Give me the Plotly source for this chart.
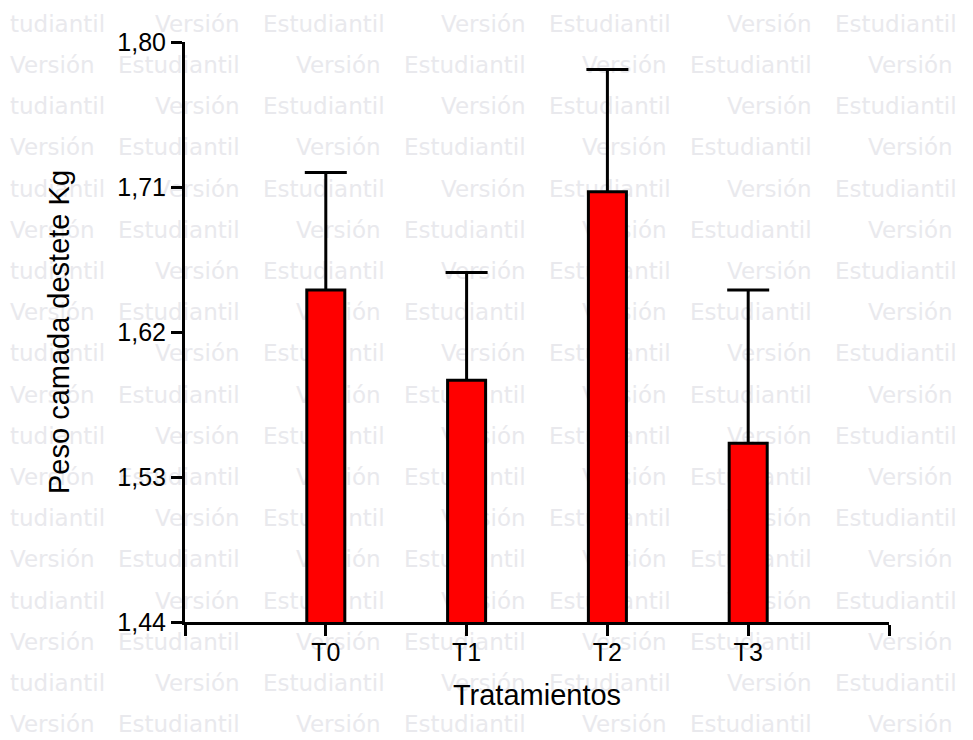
import plotly.graph_objects as go

# ---- data ----
categories = ["T0", "T1", "T2", "T3"]
means = [1.646, 1.590, 1.707, 1.551]
errors = [0.073, 0.067, 0.076, 0.095]
y_ticks = [1.44, 1.53, 1.62, 1.71, 1.80]
y_title = "Peso camada destete Kg"
x_title = "Tratamientos"
watermark_words = ["Versión", "Estudiantil"]

W, H = 973, 740
positions = list(range(1, len(categories) + 1))

# ---- watermark layout (decoration, page pixels) ----
wm_x, wm_y, wm_t = [], [], []
row_step = 41.2
period = 286
for i in range(18):
    yc = 26 + row_step * i
    if i % 2 == 0:
        # row starts with a word cut by the left page edge
        wm_x.append(10)
        wm_y.append(yc)
        wm_t.append(watermark_words[1][2:])
        start = 155
    else:
        start = 10
    for k in range(4):
        x0 = start + period * k
        if x0 > W:
            continue
        wm_x.append(x0)
        wm_y.append(yc)
        wm_t.append(watermark_words[0])
        if x0 + 108 < W:
            wm_x.append(x0 + 108)
            wm_y.append(yc)
            wm_t.append(watermark_words[1])

fig = go.Figure()

fig.add_trace(go.Scatter(
    x=wm_x, y=wm_y, text=wm_t, mode="text", textposition="middle right",
    textfont=dict(family="DejaVu Sans", size=23, color="#E9E9ED"),
    xaxis="x", yaxis="y", hoverinfo="skip", showlegend=False, cliponaxis=False,
))

# error bars (drawn beneath the bars; lower part hidden by bars / clipped)
fig.add_trace(go.Bar(
    x=positions, y=means, width=0.27,
    marker=dict(color="rgba(0,0,0,0)", line=dict(width=0)),
    error_y=dict(type="data", symmetric=False, array=errors, arrayminus=means,
                 color="black", thickness=3, width=21),
    xaxis="x2", yaxis="y2", hoverinfo="skip", showlegend=False,
))
fig.add_trace(go.Bar(
    x=positions, y=means, width=0.27,
    marker=dict(color="#FF0000", line=dict(color="black", width=3)),
    xaxis="x2", yaxis="y2", showlegend=False,
))

x0p, x1p = 185 / W, 889 / W
y0p, y1p = (H - 622) / H, (H - 42) / H

fig.update_layout(
    width=W, height=H, autosize=False,
    margin=dict(l=0, r=0, t=0, b=0, autoexpand=False),
    paper_bgcolor="white", plot_bgcolor="rgba(0,0,0,0)",
    barmode="overlay", separators=",.",
    font=dict(family="Liberation Sans, Arial", color="black"),
    xaxis=dict(domain=[0, 1], range=[0, W], visible=False, fixedrange=True,
               automargin=False),
    yaxis=dict(domain=[0, 1], range=[H, 0], visible=False, fixedrange=True,
               automargin=False),
    xaxis2=dict(
        domain=[x0p, x1p], anchor="y2", range=[0, len(categories) + 1],
        tickmode="array", tickvals=[0] + positions + [len(categories) + 1],
        ticktext=[""] + categories + [""], automargin=False,
        showline=True, linecolor="black", linewidth=3,
        ticks="outside", ticklen=11, tickwidth=3, tickcolor="black",
        ticklabelstandoff=-5,
        showgrid=False, zeroline=False,
        tickfont=dict(size=25, color="black"),
        title=dict(text=x_title, font=dict(size=29, color="black"), standoff=20),
    ),
    yaxis2=dict(
        domain=[y0p, y1p], anchor="x2", range=[y_ticks[0], y_ticks[-1]],
        tickmode="array", tickvals=y_ticks, tickformat=".2f", automargin=False,
        showline=True, linecolor="black", linewidth=3,
        ticks="outside", ticklen=11, tickwidth=3, tickcolor="black",
        showgrid=False, zeroline=False,
        tickfont=dict(size=25, color="black"),
        title=dict(text=y_title, font=dict(size=29, color="black"), standoff=40),
    ),
)

fig.write_html("out.html")
